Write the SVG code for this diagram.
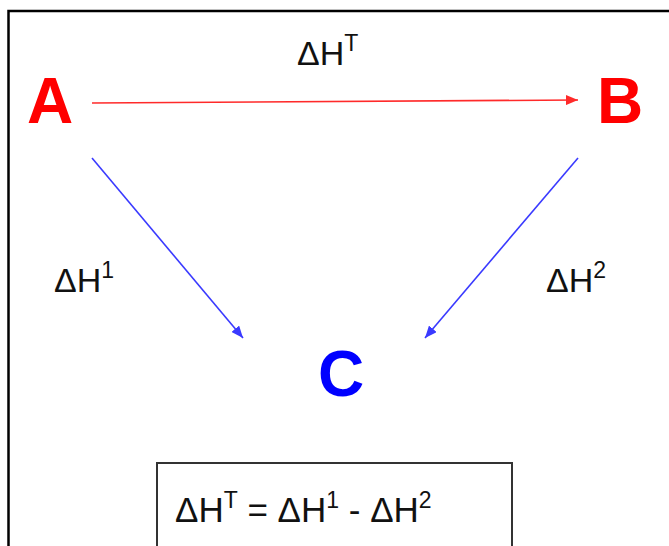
<svg xmlns="http://www.w3.org/2000/svg" width="669" height="546" viewBox="0 0 669 546">
<defs>
<style>
.lbl{font-family:"Liberation Sans",Arial,sans-serif;font-size:34px;fill:#111}
.f{font-size:35px}
.sup{font-size:23px}
.node{font-family:"Liberation Sans",Arial,sans-serif;font-size:64px;font-weight:bold}
</style>
<marker id="ar" viewBox="0 0 12 10" refX="12" refY="5" markerWidth="12" markerHeight="10" markerUnits="userSpaceOnUse" orient="auto">
<path d="M0,0 L12,5 L0,10 Z" fill="#ff2a2a"/>
</marker>
<marker id="ab" viewBox="0 0 12 10" refX="12" refY="5" markerWidth="12" markerHeight="10" markerUnits="userSpaceOnUse" orient="auto">
<path d="M0,0 L12,5 L0,10 Z" fill="#3a3aff"/>
</marker>
</defs>
<rect width="669" height="546" fill="#fff"/>
<path d="M8.5,548 V11 H670" fill="none" stroke="#000" stroke-width="2.5"/>
<g id="connectors" fill="none" stroke-width="1.6">
<path d="M92,103 L578,100" stroke="#ff2a2a" marker-end="url(#ar)"/>
<path d="M92,158 L243,338" stroke="#3a3aff" marker-end="url(#ab)"/>
<path d="M578,158 L425,338" stroke="#3a3aff" marker-end="url(#ab)"/>
<text class="lbl" x="297" y="65">ΔH<tspan class="sup" dy="-14">T</tspan></text>
<text class="lbl" x="54" y="292">ΔH<tspan class="sup" dy="-14">1</tspan></text>
<text class="lbl" x="546" y="292">ΔH<tspan class="sup" dy="-14">2</tspan></text>
</g>
<g id="nodeA"><text class="node" x="27" y="123" fill="#ff0000">A</text></g>
<g id="nodeB"><text class="node" x="597" y="123" fill="#ff0000">B</text></g>
<g id="nodeC"><text class="node" x="318" y="396" fill="#0000ff">C</text></g>
<g id="formula">
<path d="M157,548 V463 H512 V548" fill="none" stroke="#333" stroke-width="2"/>
<text class="lbl f" x="175" y="522">ΔH<tspan class="sup" dy="-14">T</tspan><tspan dy="14"> = ΔH</tspan><tspan class="sup" dy="-14">1</tspan><tspan dy="14"> - ΔH</tspan><tspan class="sup" dy="-14">2</tspan></text>
</g>
</svg>
